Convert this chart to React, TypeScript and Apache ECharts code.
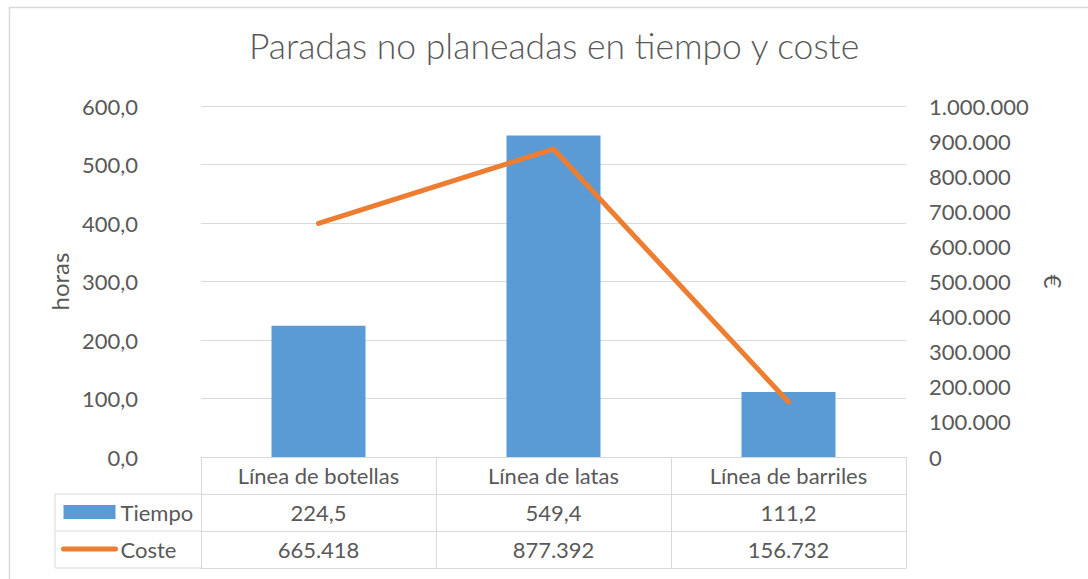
import React, { useEffect, useRef } from "react";
import * as echarts from "echarts";

const categories = ["Línea de botellas", "Línea de latas", "Línea de barriles"];
const tiempo = [224.5, 549.4, 111.2];
const coste = [665418, 877392, 156732];
const seriesNames = ["Tiempo", "Coste"];
const titleText = "Paradas no planeadas en tiempo y coste";
const leftAxisName = "horas";
const rightAxisName = "€";

const FONT = "Lato";
const TXT = "#595959";
const GRID_LINE = "#d9d9d9";
const BLUE = "#5B9BD5";
const ORANGE = "#ED7D31";
const LABEL_SIZE = 22;
const NAME_SIZE = 24;

const fmtHoras = (v: number) => v.toFixed(1).replace(".", ",");
const fmtEuro = (v: number) =>
  Math.round(v).toString().replace(/\B(?=(\d{3})+(?!\d))/g, ".");

const GRID = { left: 201, right: 182, top: 106, bottom: 122 };
const ROW = 37;

export default function App() {
  const ref = useRef<HTMLDivElement>(null);
  useEffect(() => {
    if (!ref.current) return;
    const chart = echarts.init(ref.current, undefined, { renderer: "svg" });
    const tableAxis = (gridIndex: number, data: string[], offset: number, showLabel: boolean, showTick: boolean) => ({
      type: "category",
      gridIndex,
      position: "bottom",
      offset,
      data,
      boundaryGap: true,
      axisLine: { show: true, onZero: false, lineStyle: { color: GRID_LINE, width: 1 } },
      axisTick: { show: showTick, interval: 0, length: ROW, lineStyle: { color: GRID_LINE, width: 1 } },
      axisLabel: {
        show: showLabel,
        interval: 0,
        margin: ROW / 2,
        verticalAlign: "middle",
        fontSize: LABEL_SIZE,
        color: TXT,
        fontFamily: FONT,
      },
    });
    const hiddenY = (gridIndex: number) => ({ type: "value", gridIndex, show: false, min: 0, max: 1 });
    const option: any = {
      animation: false,
      backgroundColor: "#ffffff",
      title: {
        text: titleText,
        left: 554,
        top: 27,
        padding: 0,
        textAlign: "center",
        textStyle: { fontFamily: FONT, fontSize: 35.5, fontWeight: 300, color: TXT },
      },
      grid: [0, 1, 2, 3].map(() => ({ ...GRID, containLabel: false })),
      legend: {
        orient: "vertical",
        left: 61,
        top: 501,
        padding: 0,
        itemWidth: 52,
        itemHeight: 14,
        itemGap: 15,
        textStyle: { fontFamily: FONT, fontSize: LABEL_SIZE, color: TXT },
        data: [
          { name: seriesNames[0], icon: "rect" },
          {
            name: seriesNames[1],
            itemStyle: { color: "rgba(0,0,0,0)", borderWidth: 0 },
            lineStyle: { color: ORANGE, width: 5, cap: "round" },
          },
        ],
      },
      xAxis: [
        tableAxis(0, categories, 0, true, true),
        tableAxis(1, tiempo.map(fmtHoras), ROW, true, true),
        tableAxis(2, coste.map(fmtEuro), ROW * 2, true, true),
        tableAxis(3, categories, ROW * 3, false, false),
      ],
      yAxis: [
        {
          type: "value",
          gridIndex: 0,
          position: "left",
          min: 0,
          max: 600,
          interval: 100,
          name: leftAxisName,
          nameLocation: "middle",
          nameGap: 129,
          nameRotate: 90,
          nameTextStyle: { fontFamily: FONT, fontSize: NAME_SIZE, color: TXT },
          axisLine: { show: false },
          axisTick: { show: false },
          splitLine: { show: true, lineStyle: { color: GRID_LINE, width: 1 } },
          axisLabel: { formatter: fmtHoras, margin: 63, fontSize: LABEL_SIZE, color: TXT, fontFamily: FONT },
        },
        {
          type: "value",
          gridIndex: 0,
          position: "right",
          min: 0,
          max: 1000000,
          interval: 100000,
          name: rightAxisName,
          nameLocation: "middle",
          nameGap: 135,
          nameRotate: -90,
          nameTextStyle: { fontFamily: FONT, fontSize: NAME_SIZE, color: TXT },
          axisLine: { show: false },
          axisTick: { show: false },
          splitLine: { show: false },
          axisLabel: { formatter: fmtEuro, margin: 23, fontSize: LABEL_SIZE, color: TXT, fontFamily: FONT },
        },
        hiddenY(1),
        hiddenY(2),
        hiddenY(3),
      ],
      series: [
        {
          name: seriesNames[0],
          type: "bar",
          xAxisIndex: 0,
          yAxisIndex: 0,
          data: tiempo,
          barWidth: "40%",
          itemStyle: { color: BLUE },
          z: 2,
        },
        {
          name: seriesNames[1],
          type: "line",
          xAxisIndex: 0,
          yAxisIndex: 1,
          data: coste,
          symbol: "none",
          lineStyle: { color: ORANGE, width: 5, cap: "round" },
          itemStyle: { color: ORANGE },
          z: 3,
        },
      ],
      graphic: [
        {
          type: "rect",
          shape: { x: 9.5, y: 7.5, width: 1200, height: 700 },
          style: { fill: "none", stroke: GRID_LINE, lineWidth: 1.5 },
          silent: true,
        },
        ...[1, 2, 3].map((i) => ({
          type: "line",
          shape: { x1: 55, y1: 457 + ROW * i, x2: GRID.left, y2: 457 + ROW * i },
          style: { stroke: GRID_LINE, lineWidth: 1 },
          silent: true,
        })),
        {
          type: "line",
          shape: { x1: 55, y1: 457 + ROW, x2: 55, y2: 457 + ROW * 3 },
          style: { stroke: GRID_LINE, lineWidth: 1 },
          silent: true,
        },
      ],
    };
    chart.setOption(option);
    return () => chart.dispose();
  }, []);
  return (
    <div
      ref={ref}
      style={{ position: "fixed", left: 0, top: 0, width: 1088, height: 579 }}
    />
  );
}
